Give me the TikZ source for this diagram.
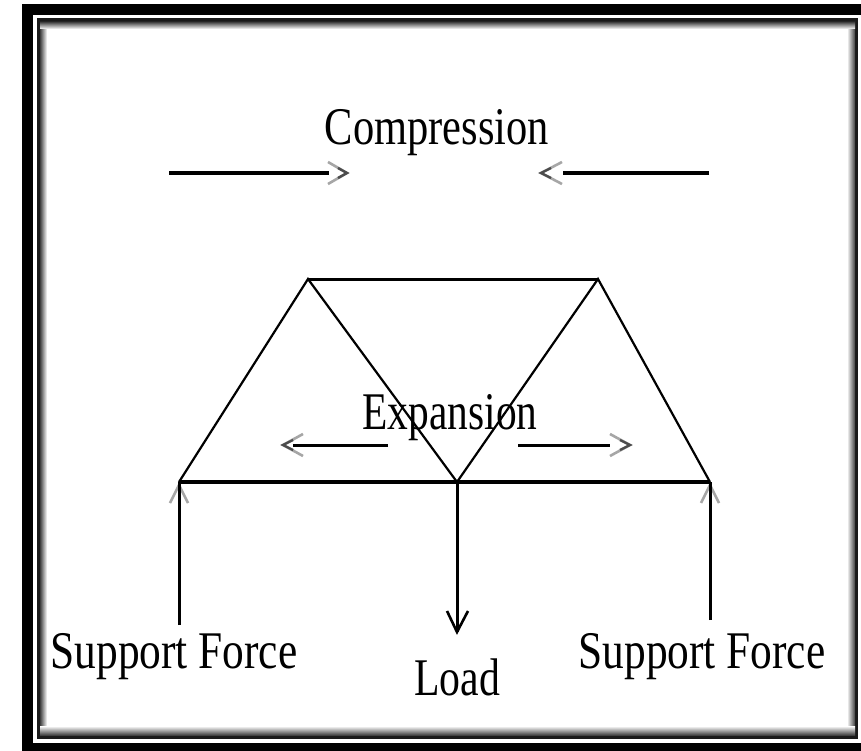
\documentclass[tikz,border=0pt]{standalone}
\usepackage{fontspec}
\setmainfont{Liberation Serif}
\newcommand{\stretchlab}[2]{\scalebox{#1}[1.47]{#2}}
\begin{document}
\begin{tikzpicture}[x=1pt,y=-1pt,
  shaft/.style={line width=3.6pt,draw=black},
  thinshaft/.style={line width=3pt,draw=black},
  chord/.style={line width=3pt,draw=black},
  member/.style={line width=2.2pt,draw=black},
  tipgray/.style={line width=2.6pt,draw=black!35},
  tipdark/.style={line width=2.4pt,draw=black!70},
  tipblack/.style={line width=2.6pt,draw=black},
  lab/.style={font=\fontsize{36}{40}\selectfont,inner sep=0pt,anchor=base,text=black}]
\useasboundingbox (0,0) rectangle (861,751);
\fill[white] (0,0) rectangle (861,751);
% frame
\fill[black] (22,4) rectangle (861,751);
\fill[white] (33,15) rectangle (861,743);
\fill[black!90] (37,18.5) rectangle (858,739);
\shade[left color=black!75,right color=white] (40,22) rectangle (47,735);
\shade[right color=black!75,left color=white] (847,22) rectangle (855,735);
\shade[top color=black!75,bottom color=white] (40,22) rectangle (855,29);
\shade[bottom color=black!75,top color=white] (40,726) rectangle (855,735);
\fill[white] (47,29) rectangle (847,726);
% truss points
\coordinate (tl) at (308,279);
\coordinate (tr) at (598,279);
\coordinate (bl) at (179,482);
\coordinate (bm) at (457,482);
\coordinate (br) at (710,482);
\draw[member] (bl) -- (tl) -- (bm) -- (tr) -- (br);
\draw[chord] (tl) -- (tr);
\draw[shaft] (bl) -- (br);
% compression
\coordinate (c1a) at (169,173);
\coordinate (c1b) at (329,173);
\coordinate (c1t) at (347,173);
\coordinate (c2a) at (709,173);
\coordinate (c2b) at (563,173);
\coordinate (c2t) at (541,173);
\draw[shaft] (c1a) -- (c1b);
\draw[shaft] (c2a) -- (c2b);
\draw[tipgray] (328,162) -- (c1t) -- (328,184);
\draw[tipgray] (562,162) -- (c2t) -- (562,184);
\draw[tipdark] (338,168) -- (c1t) -- (338,178);
\draw[tipdark] (551,168) -- (c2t) -- (551,178);
% expansion
\coordinate (e1a) at (388,445);
\coordinate (e1t) at (283,445);
\coordinate (e2a) at (518,445);
\coordinate (e2t) at (630,445);
\draw[thinshaft] (e1a) -- (293,445);
\draw[thinshaft] (e2a) -- (610,445);
\draw[tipgray] (303,434) -- (e1t) -- (303,456);
\draw[tipgray] (610,434) -- (e2t) -- (610,456);
\draw[tipdark] (293,440) -- (e1t) -- (293,450);
\draw[tipdark] (620,440) -- (e2t) -- (620,450);
% supports
\coordinate (s1) at (179,625);
\coordinate (s2) at (710,620);
\coordinate (a1) at (179,485);
\coordinate (a2) at (710,485);
\draw[tipgray] (170,503) -- (a1) -- (188,503);
\draw[tipgray] (701,503) -- (a2) -- (719,503);
\draw[chord] (s1) -- (bl);
\draw[chord] (s2) -- (br);
% load
\coordinate (lt) at (457,632);
\draw[chord] (bm) -- (lt);
\draw[tipblack] (447,611) -- (lt) -- (468,611);
% labels
\node[lab] (compression) at (437,145) {\stretchlab{1.18}{Compression}};
\node[lab] (expansion) at (450,429) {\stretchlab{1.15}{Expansion}};
\node[lab] (sf1) at (174,668) {\stretchlab{1.205}{Support Force}};
\node[lab] (sf2) at (702,668) {\stretchlab{1.205}{Support Force}};
\node[lab] (load) at (457,695) {\stretchlab{1.16}{Load}};
\end{tikzpicture}
\end{document}
